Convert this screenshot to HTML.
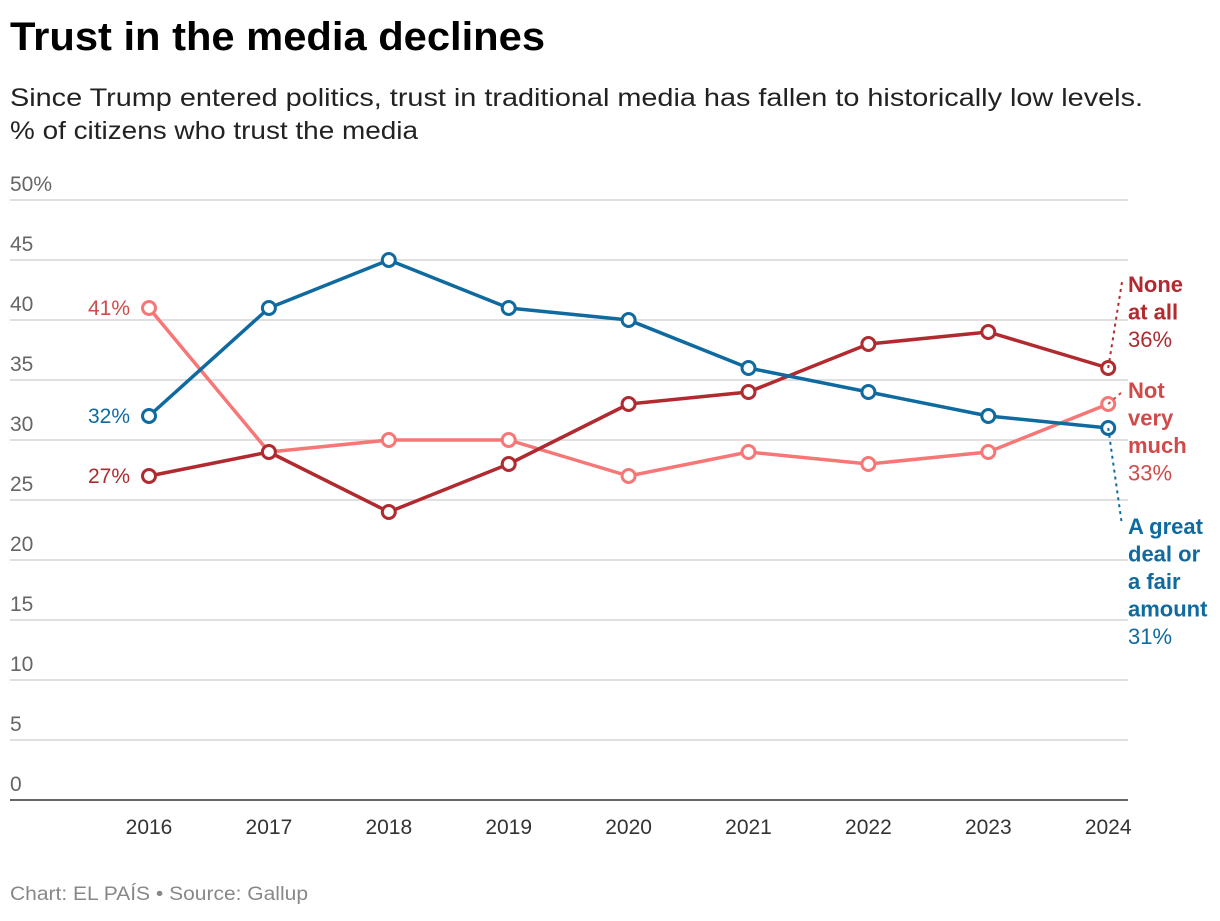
<!DOCTYPE html>
<html><head><meta charset="utf-8"><style>
body{margin:0;width:1220px;height:916px;background:#fff;font-family:"Liberation Sans",Arial,sans-serif;overflow:hidden}
</style></head><body>
<svg width="1220" height="916" font-family="Liberation Sans, Arial, sans-serif">
<text x="10" y="50" font-size="40" font-weight="bold" fill="#000" textLength="535" lengthAdjust="spacingAndGlyphs">Trust in the media declines</text>
<text x="10" y="106" font-size="25" fill="#222" textLength="1133" lengthAdjust="spacingAndGlyphs">Since Trump entered politics, trust in traditional media has fallen to historically low levels.</text>
<text x="10" y="139" font-size="25" fill="#222" textLength="408" lengthAdjust="spacingAndGlyphs">% of citizens who trust the media</text>
<g id="grid"></g><g id="lines"></g>
<text x="10" y="900" font-size="19" fill="#888" textLength="298" lengthAdjust="spacingAndGlyphs">Chart: EL PAÍS • Source: Gallup</text>
</svg>
<script>
const years=[2016,2017,2018,2019,2020,2021,2022,2023,2024];
const greatDeal=[32,41,45,41,40,36,34,32,31];
const notVery=[41,29,30,30,27,29,28,29,33];
const noneAtAll=[27,29,24,28,33,34,38,39,36];
const yTicks=[0,5,10,15,20,25,30,35,40,45,50];
const NS="http://www.w3.org/2000/svg";
const x=i=>149+i*119.9, y=v=>800-v*12;
function mk(t,a,p){const e=document.createElementNS(NS,t);for(const k in a)e.setAttribute(k,a[k]);p.appendChild(e);return e;}
const g=document.getElementById('grid'),L=document.getElementById('lines');
yTicks.forEach(v=>{
 const ln=mk('line',{x1:10,x2:1128,y1:y(v),y2:y(v),stroke:v===0?'#333':'#ccc','stroke-width':v===0?1.5:1.2},g);
 
 
 const t=mk('text',{x:10,y:y(v)-9,'font-size':21,fill:'#666'},g);
 t.textContent=v===50?'50%':v;
 
 
});
years.forEach((yr,i)=>{
 const t=mk('text',{x:x(i),y:834,'font-size':21,fill:'#333','text-anchor':'middle'},g);
 t.textContent=yr;
 
 
});
function series(vals,col,name){
 const p=mk('polyline',{points:vals.map((v,i)=>x(i)+','+y(v)).join(' '),fill:'none',stroke:col,'stroke-width':3.5,'stroke-linejoin':'round'},L);
 
 
 vals.forEach((v,i)=>{
  const c=mk('circle',{cx:x(i),cy:y(v),r:6.5,fill:'#fff',stroke:col,'stroke-width':3},L);
  
  
 });
}
series(notVery,'#f77777','not-very-much');
series(noneAtAll,'#b02a2f','none-at-all');
series(greatDeal,'#0f6aa0','great-deal');
const last=years.length-1;
function startLabel(v,col,name){
 const t=mk('text',{x:130,y:y(v)+7,'font-size':21,fill:col,'text-anchor':'end'},L);
 t.textContent=v+'%';
 
 
}
startLabel(notVery[0],'#d04a4a','not-very-much');
startLabel(greatDeal[0],'#0f6aa0','great-deal');
startLabel(noneAtAll[0],'#b02a2f','none-at-all');
function endLabel(lines,v,col,y0,name,lx1,ly1){
 const d=mk('line',{x1:x(last),y1:y(v),x2:lx1,y2:ly1,stroke:col,'stroke-width':2,'stroke-dasharray':'3,4'},L);
 
 
 lines.forEach((s,k)=>{
  const t=mk('text',{x:1128,y:y0+k*27.5,'font-size':22,fill:col,'font-weight':'bold'},L);
  t.textContent=s;
  
  
 });
 const t=mk('text',{x:1128,y:y0+lines.length*27.5,'font-size':22,fill:col},L);
 t.textContent=v+'%';
 
 
}
endLabel(['None','at all'],noneAtAll[last],'#b02a2f',292,'none-at-all',1122,282);
endLabel(['Not','very','much'],notVery[last],'#d04a4a',398,'not-very-much',1122,392);
endLabel(['A great','deal or','a fair','amount'],greatDeal[last],'#0f6aa0',534,'great-deal',1122,525);
</script>
</body></html>
